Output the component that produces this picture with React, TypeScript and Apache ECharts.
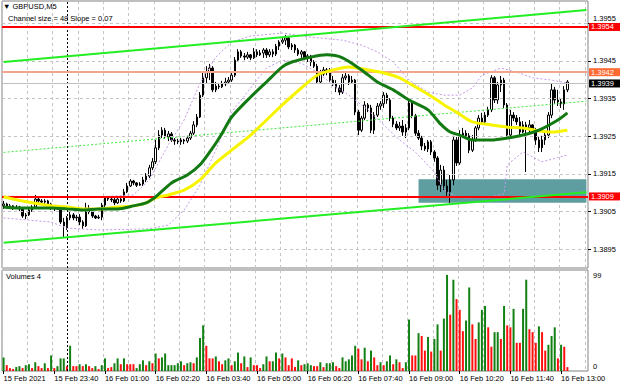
import React, { useEffect, useRef } from "react";
import * as echarts from "echarts";

const FONT = "'Liberation Sans', Arial, sans-serif";

// 179 five-minute candles (15 Feb 22:20 .. 16 Feb 13:10) + empty slots on the right
const slotCount = 185;
const firstMinute = 22 * 60 + 20;
const categories: string[] = Array.from({ length: slotCount }, (_, i) => {
  const m = firstMinute + i * 5;
  const day = m >= 1440 ? 16 : 15;
  const mm = m % 1440;
  return `${day} Feb ${String(Math.floor(mm / 60)).padStart(2, "0")}:${String(mm % 60).padStart(2, "0")}`;
});

const timeTickLabels = [
  "15 Feb 2021", "15 Feb 23:40", "16 Feb 01:00", "16 Feb 02:20", "16 Feb 03:40", "16 Feb 05:00",
  "16 Feb 06:20", "16 Feb 07:40", "16 Feb 09:00", "16 Feb 10:20", "16 Feb 11:40", "16 Feb 13:00",
];
const priceTicks = [1.3895, 1.3905, 1.3915, 1.3925, 1.3935, 1.3945, 1.3955];
const volumeTicks = [0, 99];

// [open, close, low, high]
const candles: number[][] = [
  [1.39065, 1.39070, 1.39057, 1.39078], [1.39070, 1.39062, 1.39057, 1.39073], [1.39062, 1.39065, 1.39059, 1.39070],
  [1.39065, 1.39059, 1.39054, 1.39067], [1.39059, 1.39062, 1.39057, 1.39067], [1.39062, 1.39057, 1.39051, 1.39065],
  [1.39057, 1.39038, 1.39033, 1.39059], [1.39038, 1.39041, 1.39030, 1.39046], [1.39041, 1.39054, 1.39038, 1.39059],
  [1.39054, 1.39062, 1.39049, 1.39067], [1.39062, 1.39083, 1.39059, 1.39094], [1.39083, 1.39078, 1.39073, 1.39089],
  [1.39078, 1.39075, 1.39070, 1.39083], [1.39075, 1.39078, 1.39070, 1.39083], [1.39078, 1.39070, 1.39065, 1.39081],
  [1.39070, 1.39059, 1.39054, 1.39073], [1.39059, 1.39057, 1.39051, 1.39065], [1.39057, 1.39062, 1.39054, 1.39067],
  [1.39062, 1.39022, 1.39017, 1.39065], [1.39022, 1.39012, 1.38982, 1.39033], [1.39012, 1.39033, 1.39001, 1.39038],
  [1.39033, 1.39041, 1.39027, 1.39049], [1.39041, 1.39033, 1.39027, 1.39046], [1.39033, 1.39035, 1.39025, 1.39041],
  [1.39035, 1.39022, 1.39014, 1.39043], [1.39022, 1.39012, 1.39004, 1.39027], [1.39012, 1.39059, 1.39009, 1.39073],
  [1.39059, 1.39049, 1.39043, 1.39067], [1.39049, 1.39038, 1.39033, 1.39054], [1.39038, 1.39033, 1.39030, 1.39041],
  [1.39033, 1.39035, 1.39030, 1.39041], [1.39035, 1.39067, 1.39027, 1.39073], [1.39067, 1.39086, 1.39062, 1.39091],
  [1.39086, 1.39083, 1.39078, 1.39091], [1.39083, 1.39081, 1.39075, 1.39089], [1.39081, 1.39073, 1.39067, 1.39089],
  [1.39073, 1.39083, 1.39070, 1.39089], [1.39083, 1.39078, 1.39073, 1.39091], [1.39078, 1.39102, 1.39075, 1.39110],
  [1.39102, 1.39118, 1.39099, 1.39126], [1.39118, 1.39131, 1.39115, 1.39136], [1.39131, 1.39126, 1.39120, 1.39134],
  [1.39126, 1.39120, 1.39115, 1.39128], [1.39120, 1.39123, 1.39118, 1.39128], [1.39123, 1.39134, 1.39118, 1.39142],
  [1.39134, 1.39144, 1.39128, 1.39152], [1.39144, 1.39166, 1.39139, 1.39174], [1.39166, 1.39182, 1.39160, 1.39192],
  [1.39182, 1.39219, 1.39176, 1.39240], [1.39219, 1.39253, 1.39213, 1.39266], [1.39253, 1.39266, 1.39245, 1.39274],
  [1.39266, 1.39248, 1.39243, 1.39272], [1.39248, 1.39256, 1.39237, 1.39264], [1.39256, 1.39240, 1.39235, 1.39261],
  [1.39240, 1.39237, 1.39227, 1.39245], [1.39237, 1.39235, 1.39229, 1.39243], [1.39235, 1.39240, 1.39227, 1.39245],
  [1.39240, 1.39237, 1.39229, 1.39243], [1.39237, 1.39245, 1.39232, 1.39251], [1.39245, 1.39258, 1.39240, 1.39264],
  [1.39258, 1.39280, 1.39253, 1.39290], [1.39280, 1.39301, 1.39274, 1.39309], [1.39301, 1.39359, 1.39298, 1.39367],
  [1.39359, 1.39405, 1.39354, 1.39418], [1.39405, 1.39420, 1.39391, 1.39436], [1.39420, 1.39431, 1.39399, 1.39442],
  [1.39431, 1.39373, 1.39367, 1.39436], [1.39373, 1.39383, 1.39367, 1.39394], [1.39383, 1.39381, 1.39375, 1.39391],
  [1.39381, 1.39389, 1.39378, 1.39397], [1.39389, 1.39394, 1.39383, 1.39405], [1.39394, 1.39399, 1.39391, 1.39407],
  [1.39399, 1.39412, 1.39394, 1.39418], [1.39412, 1.39452, 1.39407, 1.39460], [1.39452, 1.39474, 1.39447, 1.39481],
  [1.39474, 1.39463, 1.39458, 1.39479], [1.39463, 1.39460, 1.39452, 1.39471], [1.39460, 1.39466, 1.39455, 1.39474],
  [1.39466, 1.39458, 1.39452, 1.39468], [1.39458, 1.39474, 1.39455, 1.39484], [1.39474, 1.39466, 1.39460, 1.39481],
  [1.39466, 1.39471, 1.39463, 1.39479], [1.39471, 1.39479, 1.39458, 1.39484], [1.39479, 1.39466, 1.39458, 1.39484],
  [1.39466, 1.39474, 1.39460, 1.39481], [1.39474, 1.39468, 1.39460, 1.39481], [1.39468, 1.39489, 1.39463, 1.39495],
  [1.39489, 1.39500, 1.39479, 1.39505], [1.39500, 1.39505, 1.39495, 1.39513], [1.39505, 1.39511, 1.39492, 1.39519],
  [1.39511, 1.39487, 1.39481, 1.39513], [1.39487, 1.39492, 1.39479, 1.39497], [1.39492, 1.39479, 1.39471, 1.39495],
  [1.39479, 1.39468, 1.39463, 1.39484], [1.39468, 1.39474, 1.39458, 1.39479], [1.39474, 1.39458, 1.39452, 1.39476],
  [1.39458, 1.39463, 1.39447, 1.39468], [1.39463, 1.39447, 1.39436, 1.39466], [1.39447, 1.39436, 1.39431, 1.39452],
  [1.39436, 1.39394, 1.39389, 1.39442], [1.39394, 1.39415, 1.39389, 1.39426], [1.39415, 1.39426, 1.39410, 1.39434],
  [1.39426, 1.39420, 1.39412, 1.39431], [1.39420, 1.39399, 1.39394, 1.39431], [1.39399, 1.39389, 1.39383, 1.39410],
  [1.39389, 1.39378, 1.39367, 1.39399], [1.39378, 1.39367, 1.39359, 1.39386], [1.39367, 1.39405, 1.39362, 1.39415],
  [1.39405, 1.39410, 1.39399, 1.39418], [1.39410, 1.39394, 1.39386, 1.39415], [1.39394, 1.39399, 1.39389, 1.39410],
  [1.39399, 1.39314, 1.39306, 1.39402], [1.39314, 1.39266, 1.39253, 1.39320], [1.39266, 1.39298, 1.39261, 1.39304],
  [1.39298, 1.39333, 1.39293, 1.39343], [1.39333, 1.39325, 1.39314, 1.39338], [1.39325, 1.39266, 1.39258, 1.39333],
  [1.39266, 1.39306, 1.39256, 1.39314], [1.39306, 1.39330, 1.39301, 1.39338], [1.39330, 1.39336, 1.39320, 1.39343],
  [1.39336, 1.39359, 1.39325, 1.39367], [1.39359, 1.39346, 1.39336, 1.39365], [1.39346, 1.39298, 1.39290, 1.39351],
  [1.39298, 1.39282, 1.39274, 1.39304], [1.39282, 1.39272, 1.39266, 1.39290], [1.39272, 1.39277, 1.39264, 1.39288],
  [1.39277, 1.39261, 1.39251, 1.39293], [1.39261, 1.39272, 1.39245, 1.39282], [1.39272, 1.39338, 1.39266, 1.39346],
  [1.39338, 1.39304, 1.39298, 1.39343], [1.39304, 1.39258, 1.39251, 1.39309], [1.39258, 1.39245, 1.39240, 1.39266],
  [1.39245, 1.39224, 1.39213, 1.39251], [1.39224, 1.39216, 1.39211, 1.39232], [1.39216, 1.39235, 1.39208, 1.39240],
  [1.39235, 1.39208, 1.39200, 1.39240], [1.39208, 1.39192, 1.39182, 1.39213], [1.39192, 1.39120, 1.39107, 1.39197],
  [1.39120, 1.39160, 1.39102, 1.39174], [1.39160, 1.39118, 1.39107, 1.39171], [1.39118, 1.39102, 1.39091, 1.39134],
  [1.39102, 1.39134, 1.39073, 1.39147], [1.39134, 1.39240, 1.39120, 1.39251], [1.39240, 1.39179, 1.39171, 1.39248],
  [1.39179, 1.39253, 1.39174, 1.39266], [1.39253, 1.39258, 1.39245, 1.39272], [1.39258, 1.39251, 1.39243, 1.39266],
  [1.39251, 1.39213, 1.39205, 1.39258], [1.39213, 1.39240, 1.39208, 1.39253], [1.39240, 1.39272, 1.39235, 1.39277],
  [1.39272, 1.39298, 1.39266, 1.39306], [1.39298, 1.39288, 1.39280, 1.39312], [1.39288, 1.39306, 1.39282, 1.39314],
  [1.39306, 1.39320, 1.39301, 1.39328], [1.39320, 1.39405, 1.39314, 1.39412], [1.39405, 1.39346, 1.39338, 1.39410],
  [1.39346, 1.39386, 1.39336, 1.39394], [1.39386, 1.39399, 1.39367, 1.39410], [1.39399, 1.39333, 1.39325, 1.39405],
  [1.39333, 1.39253, 1.39245, 1.39338], [1.39253, 1.39306, 1.39248, 1.39320], [1.39306, 1.39298, 1.39290, 1.39314],
  [1.39298, 1.39288, 1.39280, 1.39306], [1.39288, 1.39261, 1.39253, 1.39301], [1.39261, 1.39280, 1.39258, 1.39290],
  [1.39280, 1.39272, 1.39155, 1.39288], [1.39272, 1.39280, 1.39261, 1.39293], [1.39280, 1.39266, 1.39256, 1.39282],
  [1.39266, 1.39240, 1.39227, 1.39272], [1.39240, 1.39219, 1.39208, 1.39248], [1.39219, 1.39240, 1.39208, 1.39251],
  [1.39240, 1.39253, 1.39227, 1.39261], [1.39253, 1.39306, 1.39245, 1.39314], [1.39306, 1.39373, 1.39298, 1.39391],
  [1.39373, 1.39346, 1.39336, 1.39381], [1.39346, 1.39341, 1.39330, 1.39373], [1.39341, 1.39336, 1.39325, 1.39349],
  [1.39336, 1.39373, 1.39320, 1.39383], [1.39373, 1.39394, 1.39367, 1.39399],
];

const volumes: number[] = [
  14, 6, 3, 2, 4, 5, 3, 6, 7, 3, 9, 5, 3, 8, 3, 16, 3, 5, 13, 13,
  5, 26, 5, 5, 7, 5, 7, 5, 3, 5, 2, 6, 13, 3, 4, 8, 13, 7, 13, 7,
  7, 7, 3, 7, 11, 6, 10, 8, 18, 13, 14, 18, 6, 6, 6, 8, 10, 6, 8, 9,
  8, 14, 34, 47, 26, 13, 13, 15, 10, 7, 11, 13, 6, 10, 19, 8, 15, 4, 14, 6,
  6, 3, 7, 15, 10, 10, 19, 13, 18, 14, 6, 13, 4, 11, 6, 7, 8,
  6, 5, 5, 9, 4, 8, 8, 9, 5, 3, 14, 10, 12, 16, 26, 23, 12, 24, 10, 21,
  14, 6, 9, 6, 10, 16, 7, 12, 9, 3, 9, 53, 16, 16, 39, 36, 21, 35, 20, 33,
  48, 21, 54, 99, 58, 94, 74, 63, 41, 52, 86, 48, 33, 50, 63, 67, 45, 25, 40, 40,
  33, 67, 47, 45, 64, 29, 29, 64, 94, 43, 40, 29, 46, 40, 21, 27, 36, 45, 13, 27,
  25, 4,
];
// g = volume bar drawn green, r = drawn red
const volumeColorCodes =
  "grrrggrggr" + "grrgrgrggg" + "rgrrgrgrrg" + "rggrrggrgr" + "rrgggrgrgr" +
  "gggggggrgg" + "rgggrrrgrr" + "ggrggrgrgr" + "rrggrggrgr" + "rrrgrgg" +
  "grrgrgggrr" + "gggggrrgrg" + "rrgrggrgrr" + "ggrrgrrgrg" + "grggrgrrrg" +
  "grrgggrrgg" + "rgrrgrrggr" + "rrgrrgggrg" + "rr";

// [slot index, price]
const maGreen: number[][] = [
  [0, 1.39062], [4, 1.39059], [9, 1.39059], [15, 1.39059], [20, 1.39057], [25, 1.39054], [30, 1.39057],
  [36, 1.39057], [41, 1.39065], [45, 1.39073], [48, 1.39089], [53, 1.39126], [58, 1.39147], [62, 1.39174],
  [66, 1.39219], [69, 1.39258], [72, 1.39301], [78, 1.39354], [83, 1.39394], [88, 1.39434], [91, 1.39447],
  [97, 1.3946], [102, 1.39466], [107, 1.39458], [113, 1.39426], [118, 1.39394], [123, 1.39373], [128, 1.39346],
  [134, 1.3932], [138, 1.39282], [141, 1.39261], [144, 1.39253], [148, 1.3924], [154, 1.3924], [159, 1.39245],
  [164, 1.39253], [169, 1.39266], [175, 1.39293], [178, 1.39312],
];
const maYellow: number[][] = [
  [0, 1.39089], [4, 1.39081], [9, 1.39073], [15, 1.39065], [20, 1.39062], [25, 1.39057], [30, 1.39057],
  [36, 1.39062], [41, 1.39065], [45, 1.39073], [48, 1.39086], [52, 1.39094], [57, 1.39107], [62, 1.39134],
  [67, 1.39179], [72, 1.39213], [78, 1.39253], [83, 1.39293], [88, 1.39333], [94, 1.39378], [99, 1.39412],
  [104, 1.39426], [109, 1.39434], [115, 1.39426], [120, 1.39418], [125, 1.39405], [130, 1.39381], [136, 1.39351],
  [140, 1.39328], [143, 1.39314], [148, 1.39288], [154, 1.3928], [159, 1.39274], [164, 1.39272], [169, 1.39264],
  [173, 1.39261], [178, 1.39266],
];
const bandUpper: number[][] = [
  [0, 1.39091], [15, 1.39089], [30, 1.39089], [41, 1.39094], [46, 1.39134], [52, 1.39227], [57, 1.39293],
  [62, 1.39391], [67, 1.3946], [72, 1.395], [78, 1.39516], [88, 1.39524], [97, 1.39513], [107, 1.39505],
  [113, 1.39492], [118, 1.39474], [123, 1.39447], [128, 1.39399], [134, 1.39367], [139, 1.39359], [144, 1.39359],
  [148, 1.39378], [151, 1.39412], [157, 1.39431], [162, 1.3942], [167, 1.39405], [173, 1.39399], [178, 1.39391],
];
const bandLower: number[][] = [
  [0, 1.39033], [15, 1.39022], [20, 1.39006], [30, 1.39001], [46, 1.39004], [52, 1.39014], [57, 1.39054],
  [62, 1.3912], [67, 1.39213], [72, 1.39314], [78, 1.39378], [83, 1.39431], [88, 1.39452], [94, 1.39444],
  [99, 1.3942], [104, 1.39386], [109, 1.39359], [115, 1.3932], [120, 1.3928], [125, 1.3924], [130, 1.39208],
  [136, 1.39155], [139, 1.39107], [143, 1.39089], [147, 1.39086], [154, 1.39089], [158, 1.39097], [159, 1.39174],
  [164, 1.39208], [170, 1.39182], [178, 1.392],
];
const channelUpper: number[][] = [[0, 1.39447], [184, 1.39585]];
const channelMiddle: number[][] = [[0, 1.39207], [184, 1.39343]];
const channelLower: number[][] = [[0, 1.38967], [184, 1.39101]];

const resistanceLevel = 1.3954;
const secondLevel = 1.3942;
const supportLevel = 1.3909;
const bidPrice = 1.3939;
const zoneTop = 1.39136;
const zoneBottom = 1.39073;
const zoneStartSlot = 131;
const zoneEndSlot = 184;
const daySeparatorSlot = 20;

const GRID_LINE = { color: "#c4c4c4", type: [3, 3] as number[], width: 1 };

export default function App() {
  const ref = useRef<HTMLDivElement>(null);
  useEffect(() => {
    if (!ref.current) return;
    const chart = echarts.init(ref.current, undefined, { renderer: "svg" });
    const everyEighth = (i: number) => i % 8 === 0;
    const everySixteenth = (i: number) => i % 16 === 0;
    const lineSeries = (name: string, data: number[][], style: any, z: number) => ({
      name,
      type: "line",
      xAxisIndex: 0,
      yAxisIndex: 0,
      data,
      symbol: "none",
      silent: true,
      z,
      lineStyle: style,
    });
    const levelLabel = (text: string, bg: string) => ({
      show: true,
      position: "end",
      formatter: text,
      backgroundColor: bg,
      color: "#ffffff",
      fontFamily: FONT,
      fontSize: 7.5,
      lineHeight: 8,
      padding: [0, 7, 0, 2],
      distance: 1,
    });
    const option: any = {
      animation: false,
      backgroundColor: "#ffffff",
      textStyle: { fontFamily: FONT },
      grid: [
        { left: 2, top: 1, width: 586, height: 267, show: true, borderColor: "#808080", borderWidth: 1, backgroundColor: "#ffffff", outerBoundsMode: "none", containLabel: false },
        { left: 2, top: 270, width: 586, height: 101, show: true, borderColor: "#808080", borderWidth: 1, backgroundColor: "#ffffff", outerBoundsMode: "none", containLabel: false },
      ],
      xAxis: [
        {
          type: "category", gridIndex: 0, data: categories, boundaryGap: true,
          axisLine: { show: false }, axisTick: { show: false }, axisLabel: { show: false },
          splitLine: { show: true, interval: everyEighth, lineStyle: GRID_LINE },
        },
        {
          type: "category", gridIndex: 1, data: categories, boundaryGap: true,
          axisLine: { show: false },
          axisTick: { show: true, interval: everySixteenth, alignWithLabel: true, length: 3, lineStyle: { color: "#000000" } },
          axisLabel: {
            show: true, interval: everySixteenth, align: "left", margin: 3,
            fontSize: 7.5, color: "#000000", fontFamily: FONT,
            formatter: (_v: string, i: number) => timeTickLabels[Math.round(i / 16)] ?? "",
          },
          splitLine: { show: true, interval: everyEighth, lineStyle: GRID_LINE },
        },
      ],
      yAxis: [
        {
          type: "value", gridIndex: 0, position: "right", min: 1.389, max: 1.39609,
          splitLine: { show: false }, axisLine: { show: false },
          axisTick: { show: true, customValues: priceTicks, length: 3, lineStyle: { color: "#000000" } },
          axisLabel: {
            customValues: priceTicks, margin: 5, color: "#000000", fontFamily: FONT, fontSize: 7.5,
            formatter: (v: number) => (v > 1.395 ? `{up|${v.toFixed(4)}}` : v.toFixed(4)),
            rich: { up: { fontSize: 7.5, fontFamily: FONT, color: "#000000", padding: [0, 0, 9, 0] } },
          },
        },
        {
          type: "value", gridIndex: 1, position: "right", min: 0, max: 104,
          splitLine: { show: false }, axisLine: { show: false }, axisTick: { show: false },
          axisLabel: {
            customValues: volumeTicks, margin: 5, color: "#000000", fontFamily: FONT, fontSize: 7.5,
            formatter: (v: number) => (v === 0 ? `{lo|${v}}` : `{hi|${v}}`),
            rich: {
              lo: { fontSize: 7.5, fontFamily: FONT, color: "#000000", padding: [0, 0, 9, 0] },
              hi: { fontSize: 7.5, fontFamily: FONT, color: "#000000", padding: [2, 0, 0, 0] },
            },
          },
        },
      ],
      graphic: [
        { type: "text", left: 3, top: 2, z: 100, style: { text: "▼ GBPUSD,M5", fontSize: 7.5, fill: "#000000", fontFamily: FONT } },
        { type: "text", left: 8, top: 14, z: 100, style: { text: "Channel size = 48 Slope = 0.07", fontSize: 7.5, fill: "#000000", fontFamily: FONT } },
        { type: "text", left: 6, top: 272, z: 100, style: { text: "Volumes 4", fontSize: 7.5, fill: "#000000", fontFamily: FONT } },
      ],
      series: [
        {
          name: "background",
          type: "line", xAxisIndex: 0, yAxisIndex: 0, data: [], silent: true, z: 1,
          markArea: {
            silent: true,
            itemStyle: { color: "#5f9ea0", opacity: 1 },
            data: [[{ xAxis: zoneStartSlot, yAxis: zoneTop }, { xAxis: zoneEndSlot, yAxis: zoneBottom }]],
          },
          markLine: {
            silent: true, symbol: "none", precision: 5, label: { show: false },
            data: [
              ...priceTicks.map((p) => ({ yAxis: p, lineStyle: GRID_LINE })),
              { xAxis: daySeparatorSlot, lineStyle: { color: "#000000", type: [2, 2], width: 1 } },
            ],
          },
        },
        {
          name: "GBPUSD",
          type: "candlestick", xAxisIndex: 0, yAxisIndex: 0, data: candles, barWidth: 2, z: 3, silent: true,
          itemStyle: { color: "#ffffff", color0: "#000000", borderColor: "#000000", borderColor0: "#000000", borderWidth: 1 },
        },
        lineSeries("band upper", bandUpper, { color: "#c496ea", width: 1, type: [2, 2] }, 4),
        lineSeries("band lower", bandLower, { color: "#c496ea", width: 1, type: [2, 2] }, 4),
        lineSeries("channel middle", channelMiddle, { color: "#3ee83e", width: 1, type: [2, 2] }, 4),
        lineSeries("channel upper", channelUpper, { color: "#22ee22", width: 2 }, 5),
        lineSeries("channel lower", channelLower, { color: "#22ee22", width: 2 }, 5),
        { ...lineSeries("MA yellow", maYellow, { color: "#f7f400", width: 3 }, 6), smooth: 0.25 },
        { ...lineSeries("MA green", maGreen, { color: "#137a13", width: 3 }, 7), smooth: 0.25 },
        {
          name: "levels",
          type: "line", xAxisIndex: 0, yAxisIndex: 0, data: [], silent: true, z: 8,
          markLine: {
            silent: true, symbol: "none", precision: 5,
            data: [
              { yAxis: bidPrice, lineStyle: { color: "#c0c0c0", width: 1, type: "solid" }, label: levelLabel(bidPrice.toFixed(4), "#000000") },
              { yAxis: secondLevel, lineStyle: { color: "#f3a58d", width: 2, type: "solid" }, label: levelLabel(secondLevel.toFixed(4), "#ff6a33") },
              { yAxis: resistanceLevel, lineStyle: { color: "#ff0000", width: 2, type: "solid" }, label: levelLabel(resistanceLevel.toFixed(4), "#ff0000") },
              { yAxis: supportLevel, lineStyle: { color: "#ff0000", width: 2, type: "solid" }, label: levelLabel(supportLevel.toFixed(4), "#ff0000") },
            ],
          },
        },
        {
          name: "Volumes",
          type: "bar", xAxisIndex: 1, yAxisIndex: 1, data: volumes, barWidth: 2, silent: true, z: 3,
          itemStyle: { color: (p: any) => (volumeColorCodes[p.dataIndex] === "g" ? "#128012" : "#ff1010") },
          markLine: {
            silent: true, symbol: "none", label: { show: false },
            data: [{ xAxis: daySeparatorSlot, lineStyle: { color: "#000000", type: [2, 2], width: 1 } }],
          },
        },
      ],
    };
    chart.setOption(option);
    return () => chart.dispose();
  }, []);
  return (
    <div
      ref={ref}
      style={{ position: "fixed", left: 0, top: 0, width: 620, height: 388, background: "#ffffff" }}
    />
  );
}
